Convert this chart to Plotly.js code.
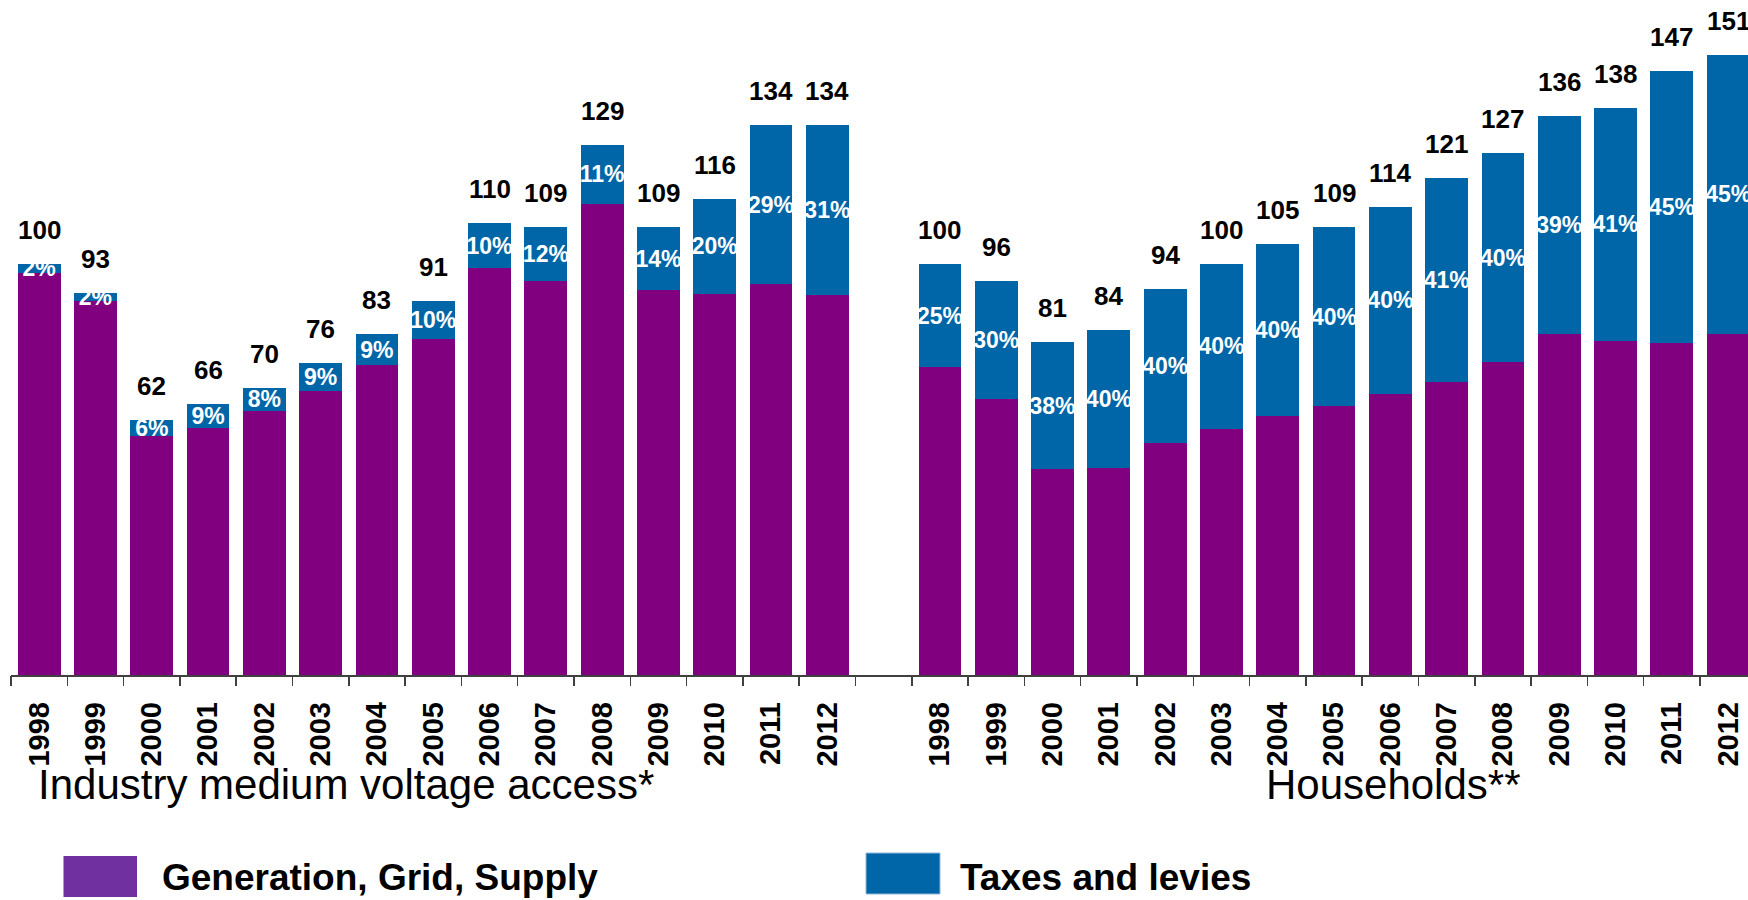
<!DOCTYPE html>
<html>
<head>
<meta charset="utf-8">
<script src="https://cdn.plot.ly/plotly-3.0.1.min.js"></script>
<style>html,body{margin:0;padding:0;background:#fff;}#chart{width:1748px;height:900px;}</style>
</head>
<body>
<div id="chart"></div>
<script>
// ---- data ----
const years = ["1998","1999","2000","2001","2002","2003","2004","2005","2006","2007","2008","2009","2010","2011","2012"];
// Industry medium voltage access* (index, 1998 = 100)
const industryTotal = [100, 93, 62, 66, 70, 76, 83, 91, 110, 109, 129, 109, 116, 134, 134];
const industryTaxShare = [2, 2, 6, 9, 8, 9, 9, 10, 10, 12, 11, 14, 20, 29, 31];
const industryGeneration = [98.0, 91.1, 58.3, 60.1, 64.4, 69.2, 75.5, 81.9, 99.0, 95.9, 114.8, 93.7, 92.8, 95.1, 92.5];
const industryTaxes = [2.0, 1.9, 3.7, 5.9, 5.6, 6.8, 7.5, 9.1, 11.0, 13.1, 14.2, 15.3, 23.2, 38.9, 41.5];
// Households** (index, 1998 = 100)
const householdTotal = [100, 96, 81, 84, 94, 100, 105, 109, 114, 121, 127, 136, 138, 147, 151];
const householdTaxShare = [25, 30, 38, 40, 40, 40, 40, 40, 40, 41, 40, 39, 41, 45, 45];
const householdGeneration = [75.0, 67.2, 50.2, 50.4, 56.4, 60.0, 63.0, 65.4, 68.4, 71.4, 76.2, 83.0, 81.4, 80.9, 83.1];
const householdTaxes = [25.0, 28.8, 30.8, 33.6, 37.6, 40.0, 42.0, 43.6, 45.6, 49.6, 50.8, 53.0, 56.6, 66.1, 67.9];
const groupTitles = ["Industry medium voltage access*", "Households**"];
const seriesNames = ["Generation, Grid, Supply", "Taxes and levies"];

// ---- styles ----
const PURPLE = "#800080";
const BLUE = "#0066A8";
const LEG_PURPLE = "#7030A0";
const FONT = "Liberation Sans, Arial, sans-serif";

// slot positions: industry 0..14, gap slot 15, households 16..30
const xInd = years.map((_, i) => i);
const xHh = years.map((_, i) => i + 16);
const xAll = xInd.concat(xHh);
const genAll = industryGeneration.concat(householdGeneration);
const taxAll = industryTaxes.concat(householdTaxes);
const totAll = industryTotal.concat(householdTotal);
const shareAll = industryTaxShare.concat(householdTaxShare);

const BW = 0.76;
const traces = [
  {
    type: "bar", x: xAll, y: genAll, name: seriesNames[0],
    marker: {color: PURPLE, line: {width: 0}}, width: BW,
    hoverinfo: "skip", showlegend: false
  },
  {
    type: "bar", x: xAll, y: taxAll, name: seriesNames[1],
    marker: {color: BLUE, line: {width: 0}}, width: BW,
    text: shareAll.map(v => v + "%"),
    textposition: "inside", insidetextanchor: "middle", textangle: 0,
    constraintext: "none", cliponaxis: false,
    textfont: {family: FONT, size: 23, color: "#ffffff", weight: "bold"},
    hoverinfo: "skip", showlegend: false
  }
];

// boundary ticks
const bounds = [];
for (let i = 0; i <= 15; i++) bounds.push(i - 0.5);
for (let i = 0; i <= 15; i++) bounds.push(i + 15.5);

const PX_L = 11, PW = 1737, PH = 675;
const px = v => (v - PX_L) / PW;
const py = v => (PH - v) / PH;

const annotations = xAll.map((x, i) => ({
  x: x, y: totAll[i], xref: "x", yref: "y",
  text: String(totAll[i]), showarrow: false,
  xanchor: "center", yanchor: "bottom", yshift: 17,
  font: {family: FONT, size: 26, color: "#000", weight: "bold"}
}));
annotations.push(
  {xref: "paper", yref: "paper", x: px(36), y: py(784), xanchor: "left", yanchor: "middle",
   text: groupTitles[0], showarrow: false, font: {family: FONT, size: 42, color: "#000"}},
  {xref: "paper", yref: "paper", x: px(1264), y: py(784), xanchor: "left", yanchor: "middle",
   text: groupTitles[1], showarrow: false, font: {family: FONT, size: 42, color: "#000"}},
  {xref: "paper", yref: "paper", x: px(160), y: py(877), xanchor: "left", yanchor: "middle",
   text: seriesNames[0], showarrow: false, font: {family: FONT, size: 37, color: "#000", weight: "bold"}},
  {xref: "paper", yref: "paper", x: px(958), y: py(877), xanchor: "left", yanchor: "middle",
   text: seriesNames[1], showarrow: false, font: {family: FONT, size: 37, color: "#000", weight: "bold"}}
);

const shapes = [
  {type: "rect", xref: "paper", yref: "paper", x0: px(63.5), x1: px(137), y0: py(897), y1: py(856),
   fillcolor: LEG_PURPLE, line: {width: 0}},
  {type: "rect", xref: "paper", yref: "paper", x0: px(866), x1: px(940), y0: py(894), y1: py(853),
   fillcolor: BLUE, line: {width: 1, color: "#8fb8dc"}}
];

const XR = [-0.5, -0.5 + PW / 56.3];
const layout = {
  width: 1748, height: 900,
  margin: {l: PX_L, r: 0, t: 0, b: 225, pad: 0},
  paper_bgcolor: "#fff", plot_bgcolor: "#fff",
  barmode: "stack", bargap: 0,
  showlegend: false,
  xaxis: {
    range: XR, showgrid: false, zeroline: false,
    showline: true, linecolor: "#404040", linewidth: 1.5,
    ticks: "", tickmode: "array", tickvals: xAll, ticktext: years.concat(years),
    tickangle: -90, ticklabelstandoff: 14,
    tickfont: {family: FONT, size: 29, color: "#000", weight: "bold"},
    fixedrange: true
  },
  xaxis2: {
    overlaying: "x", anchor: "y", side: "bottom", range: XR,
    showgrid: false, zeroline: false, showline: false,
    ticks: "outside", ticklen: 10, tickwidth: 1.5, tickcolor: "#404040",
    tickmode: "array", tickvals: bounds, showticklabels: false, fixedrange: true
  },
  yaxis: {range: [0, PH / 4.107], visible: false, fixedrange: true},
  annotations: annotations,
  shapes: shapes
};

// invisible helper trace on xaxis2 so that its boundary ticks are drawn
traces.push({type: "scatter", x: [0], y: [0], xaxis: "x2", mode: "markers",
  marker: {opacity: 0}, hoverinfo: "skip", showlegend: false});

Plotly.newPlot("chart", traces, layout, {displayModeBar: false, staticPlot: true});
</script>
</body>
</html>
